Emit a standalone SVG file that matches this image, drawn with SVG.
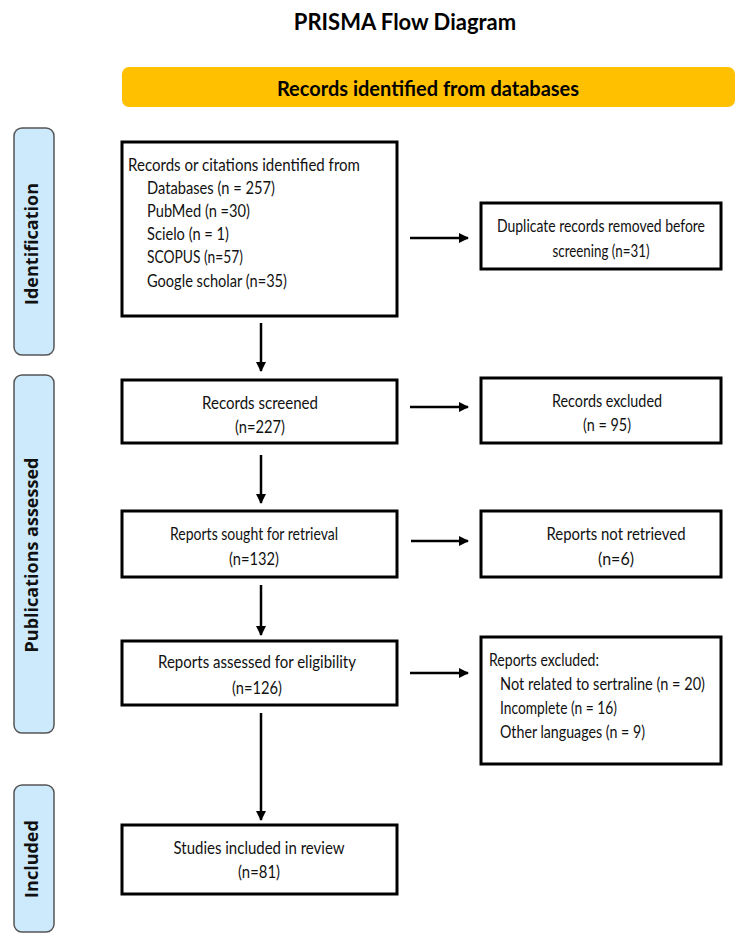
<svg xmlns="http://www.w3.org/2000/svg" width="742" height="940" viewBox="0 0 742 940">
<style>
.box{fill:#fff;stroke:#000;stroke-width:3}
.side{fill:#cdeafc;stroke:#555;stroke-width:1.5}
.t{font-family:Lato,"Noto Sans",sans-serif;font-size:16.5px;fill:#111}
.c{text-anchor:middle}
.sl{font-family:"Open Sans","Noto Sans",sans-serif;font-weight:bold;font-size:18px;fill:#111;text-anchor:middle}
.h{font-family:Lato,"Noto Sans",sans-serif;font-weight:bold;fill:#000;text-anchor:middle}
.ln{stroke:#000;stroke-width:2.5;fill:none}
</style>
<defs>
<marker id="ah" viewBox="0 0 10 10" refX="9" refY="5" markerWidth="4" markerHeight="4" orient="auto" markerUnits="strokeWidth">
<path d="M0,0 L10,5 L0,10 z" fill="#000"/>
</marker>
</defs>
<g id="title"><text class="h" x="405" y="30" font-size="22">PRISMA Flow Diagram</text></g>
<g id="banner">
<rect x="122" y="67" width="613" height="40" rx="7" fill="#ffc000"/>
<text class="h" x="428" y="96" font-size="20">Records identified from databases</text>
</g>
<g id="lbl-identification">
<rect class="side" x="14" y="128" width="40" height="227" rx="8"/>
<text class="sl" transform="translate(38,244) rotate(-90)">Identification</text>
</g>
<g id="lbl-publications">
<rect class="side" x="14" y="375" width="40" height="358" rx="8"/>
<text class="sl" transform="translate(38,555) rotate(-90)">Publications assessed</text>
</g>
<g id="lbl-included">
<rect class="side" x="14" y="785" width="40" height="147" rx="8"/>
<text class="sl" transform="translate(38,859) rotate(-90)">Included</text>
</g>
<g id="n-identified">
<rect class="box" x="122" y="142" width="275" height="174"/>
<text class="t" x="128" y="171" textLength="232" lengthAdjust="spacingAndGlyphs">Records or citations identified from</text>
<text class="t" x="147" y="194" textLength="128" lengthAdjust="spacingAndGlyphs">Databases (n = 257)</text>
<text class="t" x="147" y="217" textLength="103" lengthAdjust="spacingAndGlyphs">PubMed (n =30)</text>
<text class="t" x="147" y="240" textLength="82" lengthAdjust="spacingAndGlyphs">Scielo (n = 1)</text>
<text class="t" x="147" y="263" textLength="96" lengthAdjust="spacingAndGlyphs">SCOPUS (n=57)</text>
<text class="t" x="147" y="287" textLength="140" lengthAdjust="spacingAndGlyphs">Google scholar (n=35)</text>
</g>
<g id="n-duplicates">
<rect class="box" x="481" y="203" width="240" height="66"/>
<text class="t c" x="601" y="232" textLength="208" lengthAdjust="spacingAndGlyphs">Duplicate records removed before</text>
<text class="t c" x="601" y="257" textLength="97" lengthAdjust="spacingAndGlyphs">screening (n=31)</text>
</g>
<g id="n-screened">
<rect class="box" x="122" y="380" width="275" height="63"/>
<text class="t c" x="260" y="409" textLength="116" lengthAdjust="spacingAndGlyphs">Records screened</text>
<text class="t c" x="260" y="433" textLength="50" lengthAdjust="spacingAndGlyphs">(n=227)</text>
</g>
<g id="n-excluded">
<rect class="box" x="481" y="378" width="240" height="65"/>
<text class="t c" x="607" y="407" textLength="110" lengthAdjust="spacingAndGlyphs">Records excluded</text>
<text class="t c" x="607" y="431" textLength="48" lengthAdjust="spacingAndGlyphs">(n = 95)</text>
</g>
<g id="n-sought">
<rect class="box" x="122" y="511" width="275" height="66"/>
<text class="t c" x="254" y="540" textLength="168" lengthAdjust="spacingAndGlyphs">Reports sought for retrieval</text>
<text class="t c" x="254" y="565" textLength="50" lengthAdjust="spacingAndGlyphs">(n=132)</text>
</g>
<g id="n-notretrieved">
<rect class="box" x="481" y="511" width="240" height="66"/>
<text class="t c" x="616" y="540" textLength="139" lengthAdjust="spacingAndGlyphs">Reports not retrieved</text>
<text class="t c" x="616" y="565" textLength="36" lengthAdjust="spacingAndGlyphs">(n=6)</text>
</g>
<g id="n-assessed">
<rect class="box" x="122" y="641" width="275" height="64"/>
<text class="t c" x="257" y="668" textLength="198" lengthAdjust="spacingAndGlyphs">Reports assessed for eligibility</text>
<text class="t c" x="257" y="694" textLength="50" lengthAdjust="spacingAndGlyphs">(n=126)</text>
</g>
<g id="n-reportsexcluded">
<rect class="box" x="481" y="637" width="240" height="127"/>
<text class="t" x="489" y="666" textLength="110" lengthAdjust="spacingAndGlyphs">Reports excluded:</text>
<text class="t" x="500" y="690" textLength="205" lengthAdjust="spacingAndGlyphs">Not related to sertraline (n = 20)</text>
<text class="t" x="500" y="714" textLength="117" lengthAdjust="spacingAndGlyphs">Incomplete (n = 16)</text>
<text class="t" x="500" y="738" textLength="145" lengthAdjust="spacingAndGlyphs">Other languages (n = 9)</text>
</g>
<g id="n-included">
<rect class="box" x="122" y="825" width="275" height="69"/>
<text class="t c" x="259" y="854" textLength="171" lengthAdjust="spacingAndGlyphs">Studies included in review</text>
<text class="t c" x="259" y="878" textLength="42" lengthAdjust="spacingAndGlyphs">(n=81)</text>
</g>
<g id="connectors">
<line class="ln" x1="410" y1="238" x2="468" y2="238" marker-end="url(#ah)"/>
<line class="ln" x1="410" y1="407" x2="468" y2="407" marker-end="url(#ah)"/>
<line class="ln" x1="411" y1="541" x2="468" y2="541" marker-end="url(#ah)"/>
<line class="ln" x1="410" y1="673" x2="468" y2="673" marker-end="url(#ah)"/>
<line class="ln" x1="261" y1="323" x2="261" y2="371" marker-end="url(#ah)"/>
<line class="ln" x1="261" y1="455" x2="261" y2="503" marker-end="url(#ah)"/>
<line class="ln" x1="261" y1="585" x2="261" y2="635" marker-end="url(#ah)"/>
<line class="ln" x1="261" y1="713" x2="261" y2="820" marker-end="url(#ah)"/>
</g>
</svg>
